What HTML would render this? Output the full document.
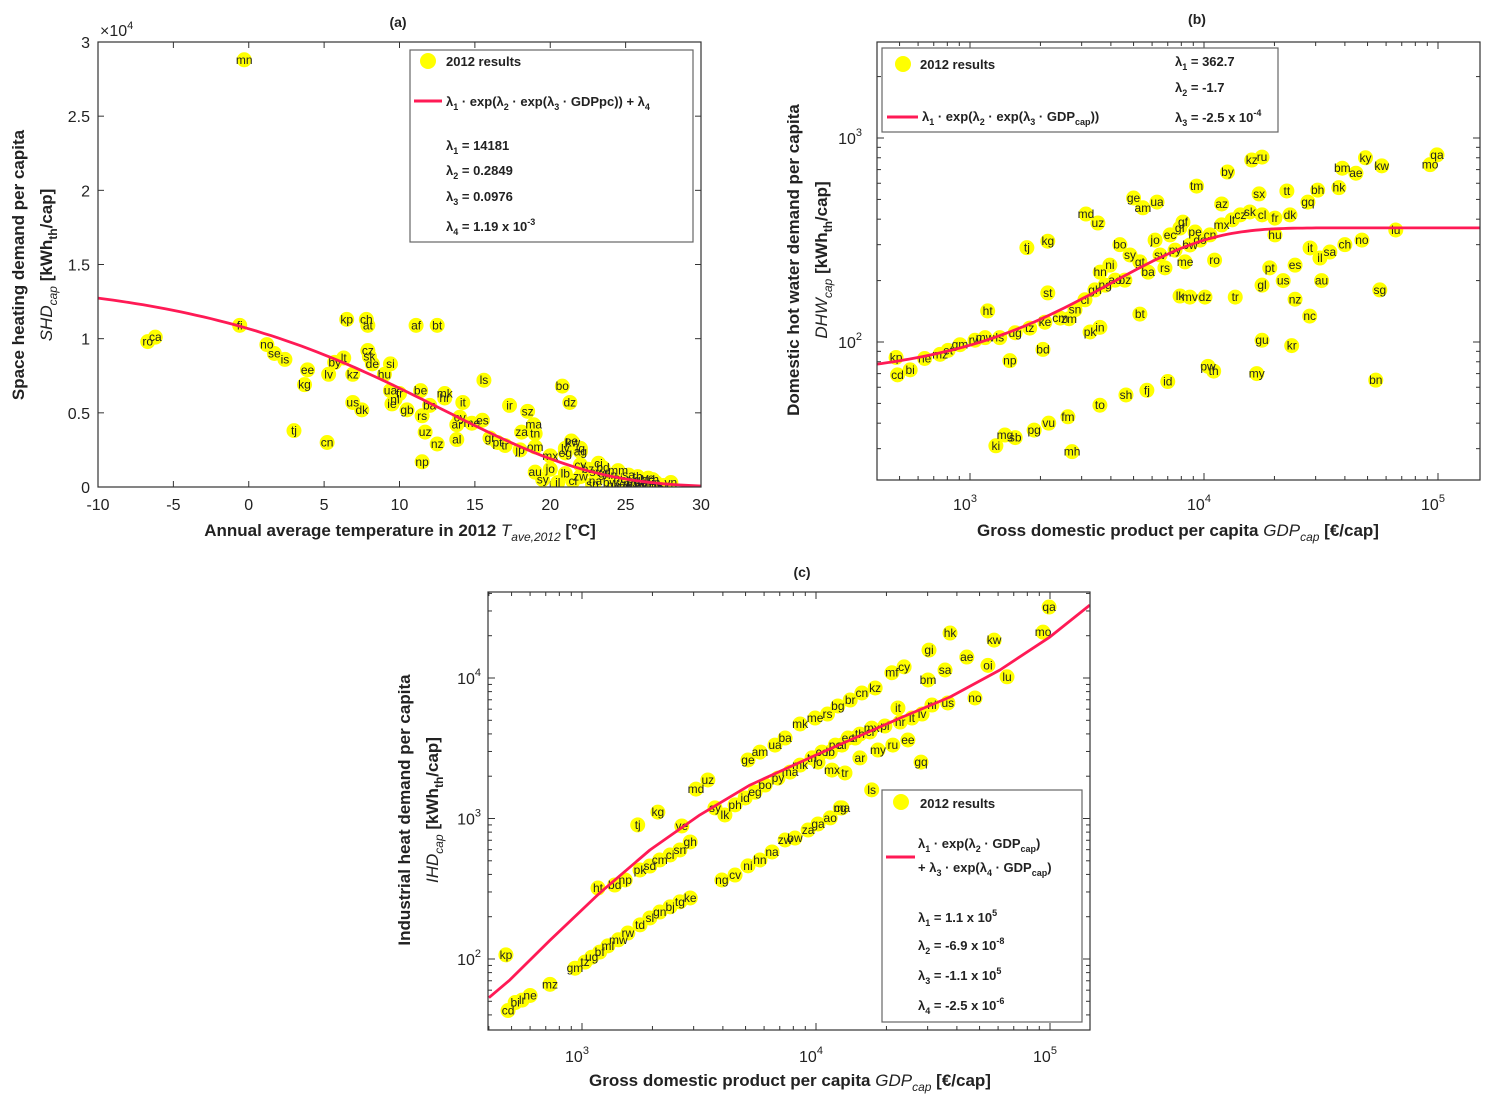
<!DOCTYPE html>
<html><head><meta charset="utf-8"><title>Heat demand per capita</title>
<style>
html,body{margin:0;padding:0;background:#fff;}
svg{display:block;font-family:"Liberation Sans",Arial,sans-serif;}
.tk{font-size:16px;fill:#222;}
.ax{font-size:17px;fill:#222;font-weight:bold;}
.lg{font-size:13px;font-weight:bold;fill:#222;}
.pl{font-size:12px;fill:#222;}
.ttl{font-size:14px;font-weight:bold;fill:#222;}
</style></head>
<body>
<svg id="fig" width="1495" height="1108" viewBox="0 0 1495 1108">
<defs>
<clipPath id="clipA"><rect x="98" y="42" width="603" height="445"/></clipPath>
<clipPath id="clipB"><rect x="877" y="42" width="603" height="438"/></clipPath>
<clipPath id="clipC"><rect x="488" y="592" width="602" height="438"/></clipPath>
</defs>
<g>
<text class="ttl" x="398" y="27" text-anchor="middle">(a)</text>
<text class="tk" x="100" y="36">×10<tspan dy="-7" font-size="11">4</tspan></text>
<g id="ticksA"></g>
<text class="ax" x="400" y="536" text-anchor="middle">Annual average temperature in 2012 <tspan font-style="italic" font-weight="normal">T</tspan><tspan font-size="12" dy="5" font-style="italic" font-weight="normal">ave,2012</tspan><tspan dy="-5"> [°C]</tspan></text>
<text class="ax" transform="translate(24,265) rotate(-90)" text-anchor="middle">Space heating demand per capita</text>
<text class="ax" transform="translate(52,265) rotate(-90)" text-anchor="middle"><tspan font-style="italic" font-weight="normal">SHD</tspan><tspan font-size="12" dy="5" font-style="italic" font-weight="normal">cap</tspan><tspan dy="-5"> [kWh</tspan><tspan font-size="12" dy="5">th</tspan><tspan dy="-5">/cap]</tspan></text>
</g>
<g>
<text class="ttl" x="1197" y="24" text-anchor="middle">(b)</text>
<g id="ticksB"></g>
<text class="ax" x="1178" y="536" text-anchor="middle">Gross domestic product per capita <tspan font-style="italic" font-weight="normal">GDP</tspan><tspan font-size="12" dy="5" font-style="italic" font-weight="normal">cap</tspan><tspan dy="-5"> [€/cap]</tspan></text>
<text class="ax" transform="translate(799,260) rotate(-90)" text-anchor="middle">Domestic hot water demand per capita</text>
<text class="ax" transform="translate(827,260) rotate(-90)" text-anchor="middle"><tspan font-style="italic" font-weight="normal">DHW</tspan><tspan font-size="12" dy="5" font-style="italic" font-weight="normal">cap</tspan><tspan dy="-5"> [kWh</tspan><tspan font-size="12" dy="5">th</tspan><tspan dy="-5">/cap]</tspan></text>
</g>
<g>
<text class="ttl" x="802" y="577" text-anchor="middle">(c)</text>
<g id="ticksC"></g>
<text class="ax" x="790" y="1086" text-anchor="middle">Gross domestic product per capita <tspan font-style="italic" font-weight="normal">GDP</tspan><tspan font-size="12" dy="5" font-style="italic" font-weight="normal">cap</tspan><tspan dy="-5"> [€/cap]</tspan></text>
<text class="ax" transform="translate(410,810) rotate(-90)" text-anchor="middle">Industrial heat demand per capita</text>
<text class="ax" transform="translate(438,810) rotate(-90)" text-anchor="middle"><tspan font-style="italic" font-weight="normal">IHD</tspan><tspan font-size="12" dy="5" font-style="italic" font-weight="normal">cap</tspan><tspan dy="-5"> [kWh</tspan><tspan font-size="12" dy="5">th</tspan><tspan dy="-5">/cap]</tspan></text>
</g>
<g id="marks"></g>
<g id="frames"></g>
<g>
<rect x="410" y="50" width="283" height="192" fill="#fff" stroke="#666" stroke-width="1.2"/>
<circle cx="428" cy="61" r="8" fill="#ffff00"/>
<text class="lg" x="446" y="66">2012 results</text>
<line x1="414" y1="101" x2="442" y2="101" stroke="#ff1a55" stroke-width="3"/>
<text class="lg" x="446" y="106">λ<tspan font-size="9" dy="4">1</tspan><tspan dy="-4"> · exp(λ</tspan><tspan font-size="9" dy="4">2</tspan><tspan dy="-4"> · exp(λ</tspan><tspan font-size="9" dy="4">3</tspan><tspan dy="-4"> · GDPpc)) + λ</tspan><tspan font-size="9" dy="4">4</tspan></text>
<text class="lg" x="446" y="150">λ<tspan font-size="9" dy="4">1</tspan><tspan dy="-4"> = 14181</tspan></text>
<text class="lg" x="446" y="175">λ<tspan font-size="9" dy="4">2</tspan><tspan dy="-4"> = 0.2849</tspan></text>
<text class="lg" x="446" y="201">λ<tspan font-size="9" dy="4">3</tspan><tspan dy="-4"> = 0.0976</tspan></text>
<text class="lg" x="446" y="231">λ<tspan font-size="9" dy="4">4</tspan><tspan dy="-4"> = 1.19 x 10</tspan><tspan font-size="9" dy="-6">-3</tspan></text>
</g>
<g>
<rect x="882" y="48" width="396" height="84" fill="#fff" stroke="#666" stroke-width="1.2"/>
<circle cx="903" cy="64" r="8" fill="#ffff00"/>
<text class="lg" x="920" y="69">2012 results</text>
<line x1="887" y1="117" x2="918" y2="117" stroke="#ff1a55" stroke-width="3"/>
<text class="lg" x="922" y="121">λ<tspan font-size="9" dy="4">1</tspan><tspan dy="-4"> · exp(λ</tspan><tspan font-size="9" dy="4">2</tspan><tspan dy="-4"> · exp(λ</tspan><tspan font-size="9" dy="4">3</tspan><tspan dy="-4"> · GDP</tspan><tspan font-size="9" dy="4">cap</tspan><tspan dy="-4">))</tspan></text>
<text class="lg" x="1175" y="66">λ<tspan font-size="9" dy="4">1</tspan><tspan dy="-4"> = 362.7</tspan></text>
<text class="lg" x="1175" y="92">λ<tspan font-size="9" dy="4">2</tspan><tspan dy="-4"> = -1.7</tspan></text>
<text class="lg" x="1175" y="122">λ<tspan font-size="9" dy="4">3</tspan><tspan dy="-4"> = -2.5 x 10</tspan><tspan font-size="9" dy="-6">-4</tspan></text>
</g>
<g>
<rect x="882" y="790" width="200" height="232" fill="#fff" stroke="#666" stroke-width="1.2"/>
<circle cx="901" cy="802" r="8" fill="#ffff00"/>
<text class="lg" x="920" y="808">2012 results</text>
<line x1="886" y1="857" x2="915" y2="857" stroke="#ff1a55" stroke-width="3"/>
<text class="lg" x="918" y="848">λ<tspan font-size="9" dy="4">1</tspan><tspan dy="-4"> · exp(λ</tspan><tspan font-size="9" dy="4">2</tspan><tspan dy="-4"> · GDP</tspan><tspan font-size="9" dy="4">cap</tspan><tspan dy="-4">)</tspan></text>
<text class="lg" x="918" y="872">+ λ<tspan font-size="9" dy="4">3</tspan><tspan dy="-4"> · exp(λ</tspan><tspan font-size="9" dy="4">4</tspan><tspan dy="-4"> · GDP</tspan><tspan font-size="9" dy="4">cap</tspan><tspan dy="-4">)</tspan></text>
<text class="lg" x="918" y="922">λ<tspan font-size="9" dy="4">1</tspan><tspan dy="-4"> = 1.1 x 10</tspan><tspan font-size="9" dy="-6">5</tspan></text>
<text class="lg" x="918" y="950">λ<tspan font-size="9" dy="4">2</tspan><tspan dy="-4"> = -6.9 x 10</tspan><tspan font-size="9" dy="-6">-8</tspan></text>
<text class="lg" x="918" y="980">λ<tspan font-size="9" dy="4">3</tspan><tspan dy="-4"> = -1.1 x 10</tspan><tspan font-size="9" dy="-6">5</tspan></text>
<text class="lg" x="918" y="1010">λ<tspan font-size="9" dy="4">4</tspan><tspan dy="-4"> = -2.5 x 10</tspan><tspan font-size="9" dy="-6">-6</tspan></text>
</g>
</svg>
<script>
const aTemp=[-0.3,-6.2,-6.7,-0.6,1.2,1.7,2.4,3.7,3.9,5.3,3.0,5.2,6.5,7.8,7.9,11.1,12.5,5.7,6.3,6.9,7.9,8.0,8.2,9.4,9.0,9.4,10.0,9.7,11.4,6.9,7.5,11.7,11.5,12.5,13.8,13.8,13.0,14.2,15.6,11.5,17.3,18.5,15.5,18.1,19.0,18.9,20.8,21.3,21.4,21.0,22.0,16,16.5,17,18,13,12,10.5,9.5,14,14.8,22,22.5,23,23.5,24,24.5,25,25.5,26,26.5,27,27.5,25,26,24,23,22,21,20,19.5,20.5,21.5,19,20,21,22,21.5,19,25.2,26.5,27,23.5,24.5,25.8,26.8,28,24.8,25.5,26.2,27.2,24.2,25.3,26,23.2,22.8];
const aShd=[28800,10100,9800,10900,9600,9000,8600,6900,7900,7600,3800,3000,11300,11300,10900,10900,10900,8400,8700,7600,9200,8800,8300,8300,7600,6500,6300,5900,6500,5700,5200,3700,1700,2900,3200,4200,6300,5700,7200,4800,5500,5100,4500,3700,3600,4200,6800,5700,3100,2600,2400,3300,3000,2800,2500,6000,5500,5200,5600,4700,4300,1500,1200,1000,900,800,600,500,400,300,200,150,100,200,100,300,400,700,900,1200,500,300,400,1000,2100,2300,2600,3000,2700,800,600,300,1300,1100,700,500,300,50,0,100,0,150,250,500,1600,200];
const aLab=["mn","ca","ro","fi","no","se","is","kg","ee","lv","tj","cn","kp","ch","at","af","bt","by","lt","kz","cz","sk","de","si","hu","ua","fr","nl","be","us","dk","uz","np","nz","al","ar","mk","it","ls","rs","ir","sz","es","za","tn","ma","bo","dz","pe","ly","ag","gr","pt","tr","jp","hr","ba","gb","ie","cy","me","cv","bz","sv","gt","hn","ni","cr","pa","co","ve","gy","sr","ec","py","bw","na","zw","lb","jo","sy","il","cl","au","mx","eg","iq","kw","om","sa","ye","in","bd","mm","th","kh","vn","sg","my","id","lk","ph","ng","gh","ci","sn"];
const aLambda=[14181,0.2849,0.0976];
const bGdp=[483,490,555,745,640,1190,2150,2650,2150,1750,3130,3520,5000,5480,6300,4370,3260,3590,5320,2050,1480,1290,1410,1560,1880,2170,2620,2730,3590,4640,5700,7000,7900,8700,10100,13600,17700,21800,31800,24500,28300,56400,17700,23700,16800,10400,11000,54200,9300,12600,16000,17700,11900,17200,22600,39000,44600,49000,57500,99000,92500,37700,30600,27800,66000,47300,40000,5320,6490,7520,8710,9620,10600,11900,13200,14300,15700,17700,20100,23300,7890,9160,7160,6180,4830,3960,3600,4590,5770,6810,8300,11100,19100,24500,28400,31300,34500,20100,8130,1340,1560,1800,2090,2430,2810,3100,3420,3780,4170,906,1050,1160,806];
const bDhw=[84,69,73,87,83,142,174,130,312,290,424,383,508,455,485,300,112,118,137,92,81,31,35,34,37,40,43,29,49,55,58,64,168,166,166,166,190,200,200,162,134,180,102,96,70,76,72,65,581,681,780,806,475,532,550,711,672,800,730,826,740,571,555,485,354,316,300,247,267,282,299,316,335,375,397,420,434,420,405,420,362,346,335,316,267,238,220,201,220,231,247,252,231,238,289,258,276,335,387,105,111,117,125,131,144,161,180,190,201,97,102,105,91];
const bLab=["kp","cd","bi","mz","ne","ht","st","zm","kg","tj","md","uz","ge","am","ua","bo","pk","in","bt","bd","np","ki","mg","sb","pg","vu","fm","mh","to","sh","fj","id","lk","mv","dz","tr","gl","us","au","nz","nc","sg","gu","kr","my","pw","th","bn","tm","by","kz","ru","az","sx","tt","bm","ae","ky","kw","qa","mo","hk","bh","gq","lu","no","ch","gt","sv","py","bw","do","cn","mx","lt","cz","sk","cl","fr","dk","gf","pe","ec","jo","sy","ni","hn","bz","ba","rs","me","ro","pt","es","it","il","sa","hu","gf","ls","ug","tz","ke","cm","sn","ci","gh","ng","ao","gm","rw","mw","et"];
const bLambda=[362.7,-1.7,-2.5e-4];
const cGdp=[473,483,518,555,600,730,933,1030,1100,1190,1290,1430,1570,1770,1950,2150,2380,2620,2900,3960,4510,5120,5760,6490,7380,8130,9250,10200,11500,12700,1170,1380,1530,1770,1950,2150,2380,2620,2900,1730,2110,2670,3070,3450,3700,4080,4510,4980,5490,6060,6880,7750,8550,9620,10600,12100,13700,15400,17300,5120,5760,6680,7380,8550,9910,11200,12400,14000,15700,17900,21100,23800,30400,37400,57700,35600,44100,54300,30100,65500,47800,36600,31300,22400,99100,93400,10200,11500,12900,14700,17000,19700,22900,25700,28400,11700,13300,15400,18400,21300,24700,28100,12900,17300];
const cIhd=[107,43,49,51,55,66,86,95,103,112,124,137,153,175,196,216,235,255,272,365,396,460,507,578,703,726,828,914,1010,1190,320,336,365,430,459,507,550,597,681,900,1110,885,1620,1880,1190,1060,1250,1400,1540,1730,1940,2140,2400,2700,2970,3330,3740,3990,4400,2610,2970,3330,3740,4710,5190,5540,6320,6970,7820,8490,10900,12000,15800,20900,18600,11400,14100,12300,9680,10200,7210,6640,6420,6120,32000,21200,2520,2970,3330,3740,4130,4550,4860,5190,5540,2210,2110,2700,3070,3330,3620,2520,1190,1600];
const cLab=["kp","cd","bi","lr","ne","mz","gm","tz","ug","bf","ml","mw","rw","td","sl","gn","bj","tg","ke","ng","cv","ni","hn","na","zw","bw","za","ga","ao","cg","ht","bd","np","pk","sd","cm","ci","sn","gh","tj","kg","ye","md","uz","sy","lk","ph","id","eg","bo","py","ma","mk","tn","co","pe","ec","th","mx","ge","am","ua","ba","mk","me","rs","bg","br","cn","kz","mf","cy","gi","hk","kw","sa","ae","oi","bm","lu","no","us","nl","it","qa","mo","jo","lb","al","tr","cl","pl","hr","lt","lv","mx","tr","ar","my","ru","ee","gq","ma","ls"];
const cCurveGdp=[400,492,730,1190,1950,3190,5220,10000,22900,37400,61100,100000,148000];
const cCurveIhd=[53,71,136,295,597,1060,1730,2830,5190,7330,11400,19600,33000];

const xa=t=>98+(t+10)*603/40, ya=v=>487-v*445/30000;
const xb=g=>970+234*(Math.log10(g)-3), yb=v=>342-204*(Math.log10(v)-2);
const xc=g=>582+234*(Math.log10(g)-3), yc=v=>678-140.5*(Math.log10(v)-4);
const NS="http://www.w3.org/2000/svg";
function mk(tag,attrs,parent){const e=document.createElementNS(NS,tag);for(const k in attrs)e.setAttribute(k,attrs[k]);parent.appendChild(e);return e;}
const marks=document.getElementById('marks'), frames=document.getElementById('frames');

function drawPoints(xs,ys,labs,sx,sy,clip,panel){
  const g=mk('g',{'clip-path':'url(#'+clip+')'},marks);
  
  
  for(let i=0;i<xs.length;i++){
    const c=mk('circle',{cx:sx(xs[i]),cy:sy(ys[i]),r:7.5,fill:'#ffff00'},g);
    
    
  }
  for(let i=0;i<xs.length;i++){
    const t=mk('text',{x:sx(xs[i]),y:sy(ys[i])+4,'text-anchor':'middle','class':'pl'},g);
    t.textContent=labs[i];
    
    
  }
}
function drawCurve(pts,clip,panel){
  const p=mk('path',{d:'M'+pts.map(q=>q[0].toFixed(1)+','+q[1].toFixed(1)).join('L'),fill:'none',stroke:'#ff1a55','stroke-width':2.8,'stroke-linejoin':'round','clip-path':'url(#'+clip+')'},marks);
  
  
}
function frame(x,y,w,h,panel){
  const r=mk('rect',{x:x,y:y,width:w,height:h,fill:'none',stroke:'#333','stroke-width':1.2},frames);
  
  
}
function tick(g,x1,y1,x2,y2){mk('line',{x1:x1,y1:y1,x2:x2,y2:y2,stroke:'#333','stroke-width':1},g);}
function label(g,x,y,txt,anchor,sup,name){
  const t=mk('text',{x:x,y:y,'text-anchor':anchor,'class':'tk'},g);
  t.textContent=txt;
  if(sup){const s=mk('tspan',{dy:-8,'font-size':11},t);s.textContent=sup;}
  
  
}
(function(){
  const g=document.getElementById('ticksA');
  const xt=[-10,-5,0,5,10,15,20,25,30], yt=[0,5000,10000,15000,20000,25000,30000], ytl=["0","0.5","1","1.5","2","2.5","3"];
  xt.forEach(t=>{const x=xa(t);tick(g,x,487,x,481);tick(g,x,42,x,48);label(g,x,510,String(t),'middle',null,'x-tick-label-a');});
  yt.forEach((v,i)=>{const y=ya(v);tick(g,98,y,104,y);tick(g,701,y,695,y);label(g,90,y+6,ytl[i],'end',null,'y-tick-label-a');});
  drawPoints(aTemp,aShd,aLab,xa,ya,'clipA','a');
  const pts=[];for(let T=-10;T<=30.01;T+=0.5){pts.push([xa(T),ya(aLambda[0]*Math.exp(-aLambda[1]*Math.exp(aLambda[2]*T)))]);}
  drawCurve(pts,'clipA','a');
  frame(98,42,603,445,'a');
})();
function logTicks(g,sx,sy,x0,x1,y0,y1,gx0,gx1,gy0,gy1,panel,ylabX,xlabY){
  for(let d=2;d<=5;d++){for(let m=1;m<10;m++){const v=m*Math.pow(10,d);if(v<gx0||v>gx1)continue;const x=sx(v);const L=m===1?7:4;tick(g,x,y1,x,y1-L);tick(g,x,y0,x,y0+L);if(m===1&&d>=3)label(g,x-5,xlabY,'10',"middle",String(d),'x-tick-label-'+panel);}}
  for(let d=1;d<=4;d++){for(let m=1;m<10;m++){const v=m*Math.pow(10,d);if(v<gy0||v>gy1)continue;const y=sy(v);const L=m===1?7:4;tick(g,x0,y,x0+L,y);tick(g,x1,y,x1-L,y);if(m===1&&d>=2)label(g,ylabX,y+6,'10','end',String(d),'y-tick-label-'+panel);}}
}
(function(){
  const g=document.getElementById('ticksB');
  logTicks(g,xb,yb,877,1480,42,480,402,150000,21,2900,'b',862,510);
  drawPoints(bGdp,bDhw,bLab,xb,yb,'clipB','b');
  const pts=[];for(let l=2.6;l<=5.2;l+=0.02){const G=Math.pow(10,l);pts.push([xb(G),yb(bLambda[0]*Math.exp(bLambda[1]*Math.exp(bLambda[2]*G)))]);}
  drawCurve(pts,'clipB','b');
  frame(877,42,603,438,'b');
})();
(function(){
  const g=document.getElementById('ticksC');
  logTicks(g,xc,yc,488,1090,592,1030,398,150000,31,40000,'c',481,1062);
  drawPoints(cGdp,cIhd,cLab,xc,yc,'clipC','c');
  drawCurve(cCurveGdp.map((G,i)=>[xc(G),yc(cCurveIhd[i])]),'clipC','c');
  frame(488,592,602,438,'c');
})();
</script>
</body></html>
